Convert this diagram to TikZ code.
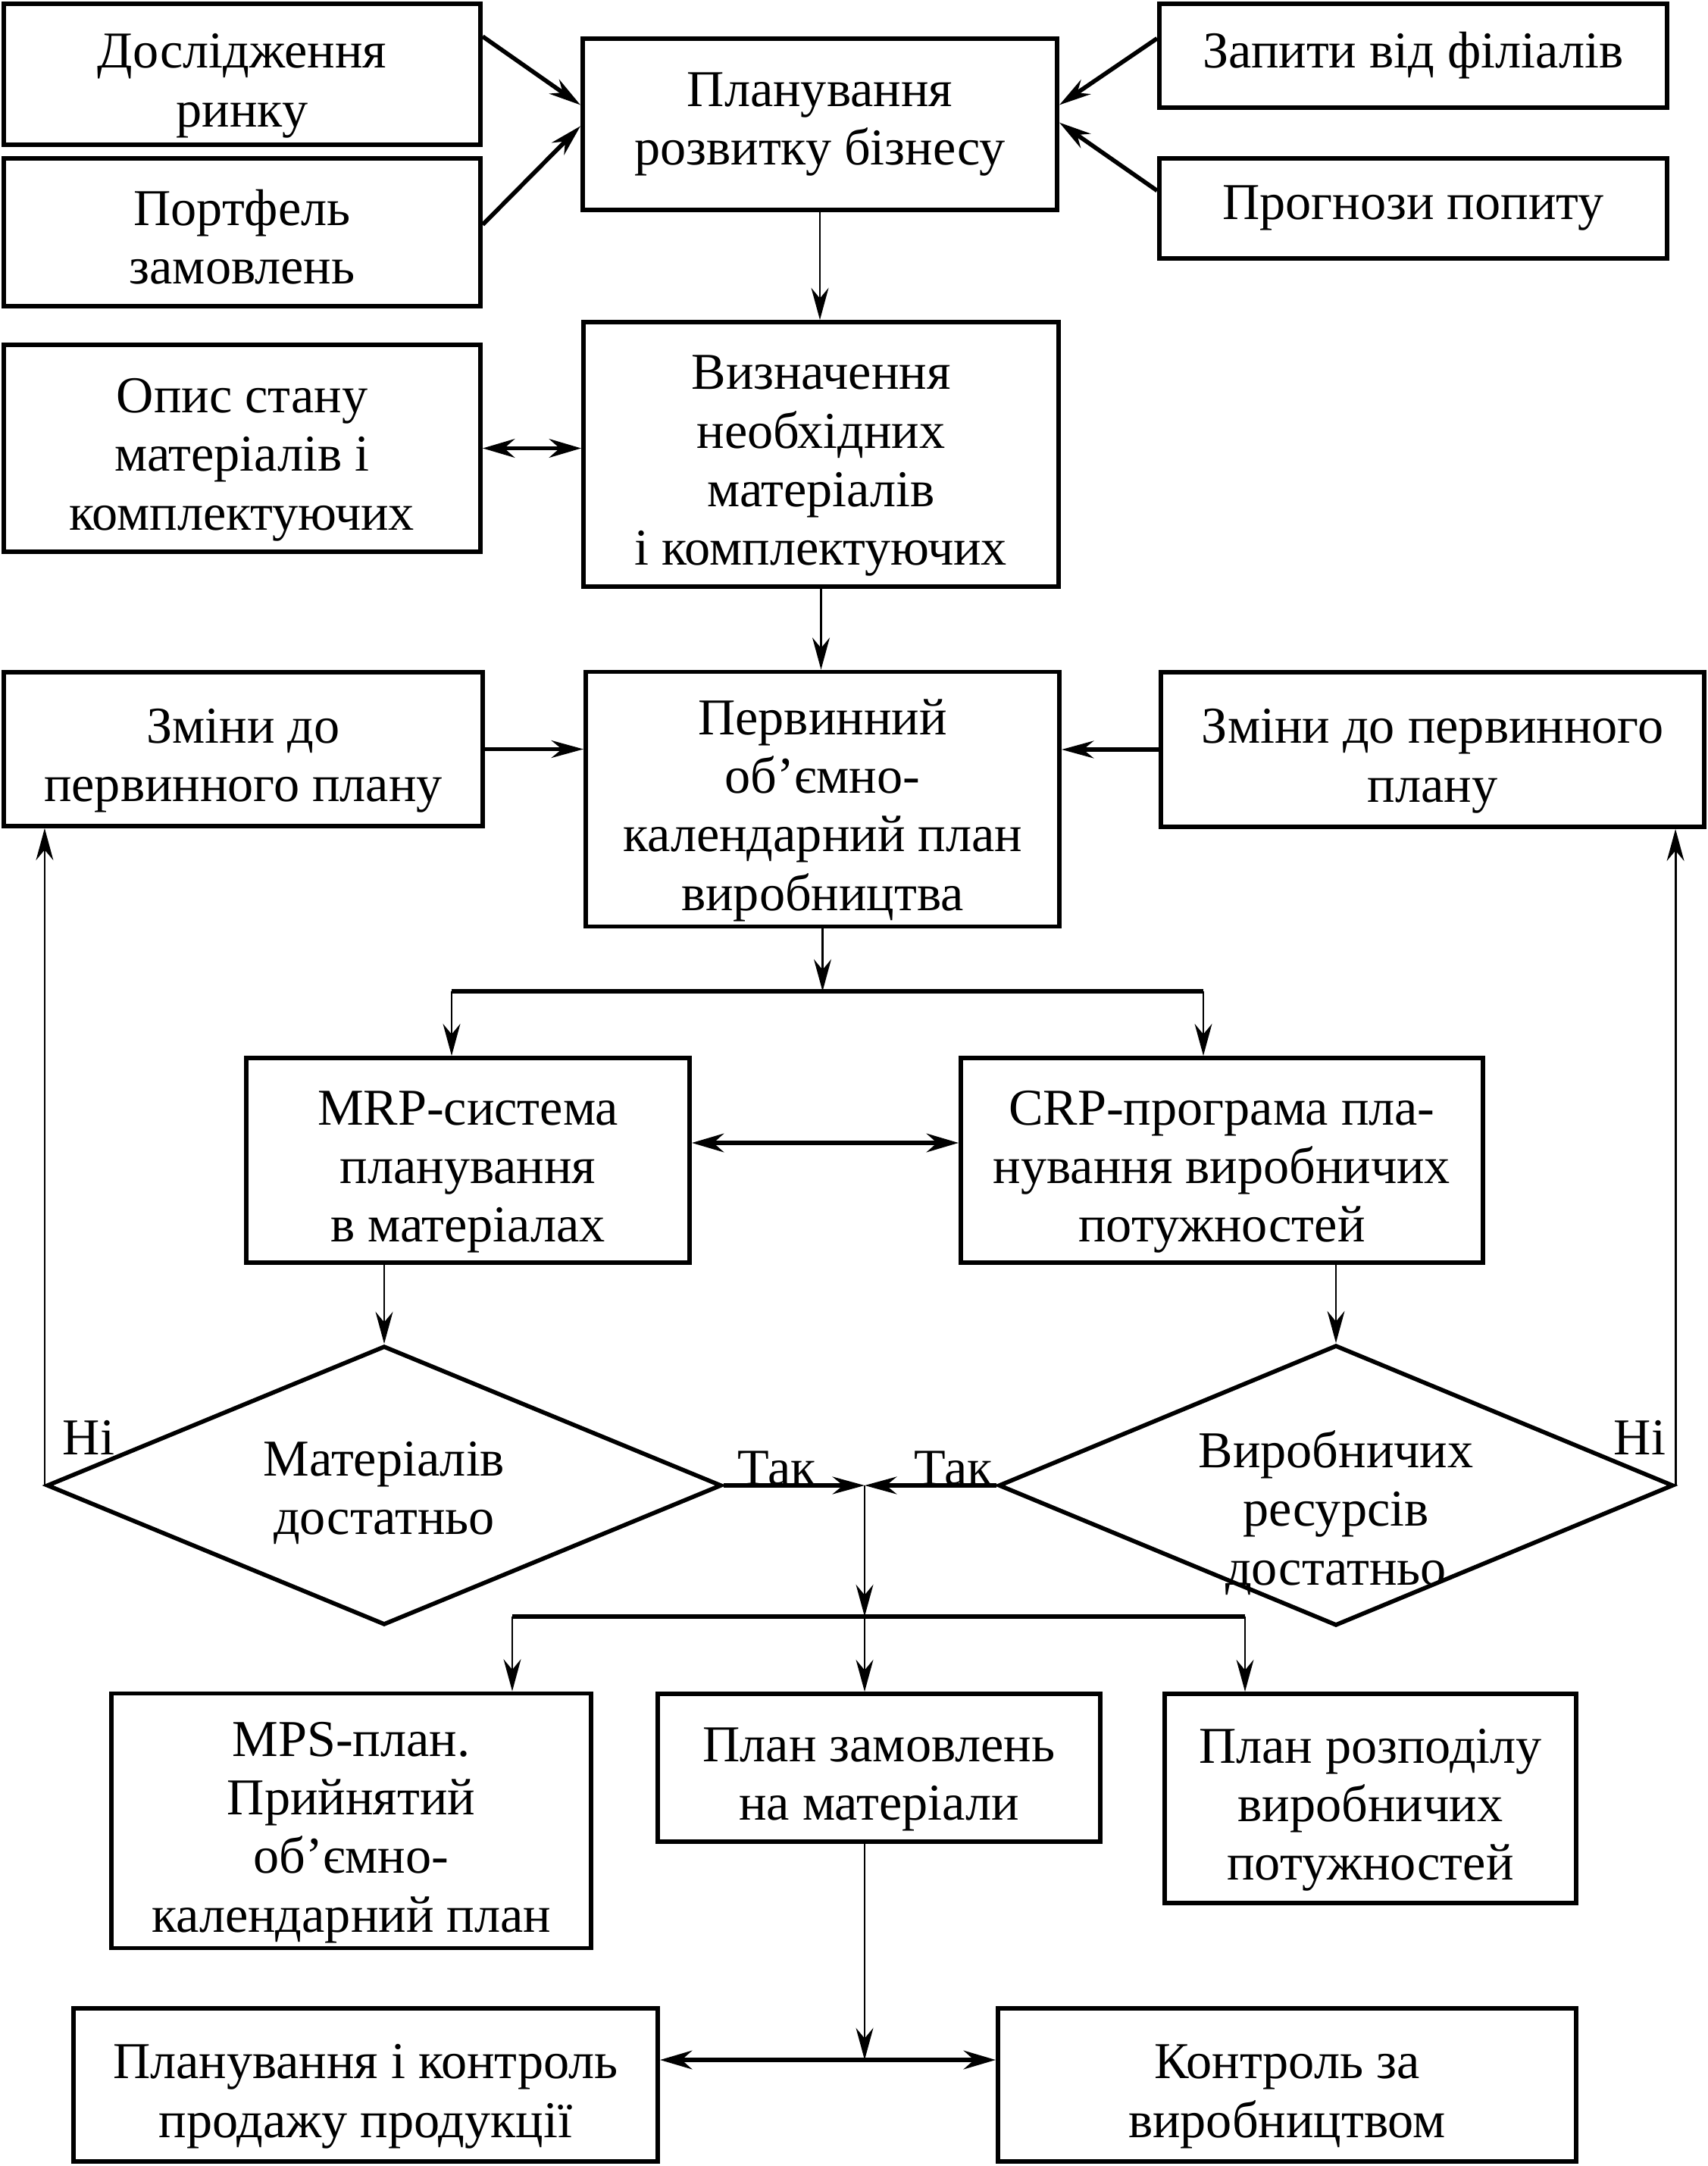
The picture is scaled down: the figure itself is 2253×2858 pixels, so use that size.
\documentclass[tikz,border=0pt]{standalone}
\usepackage{fontspec}
\setmainfont{Liberation Serif}
\usetikzlibrary{arrows.meta,shapes.geometric,calc}
\newcommand{\TopStrut}{\rule{0pt}{21.5pt}}
\newcommand{\HalfStrut}{\rule{0pt}{17pt}}
\begin{document}
\begin{tikzpicture}[x=0.01cm,y=-0.01cm,
  box/.style={draw,line width=1.6pt,align=center,inner sep=2pt,font=\fontsize{19.4}{22}\selectfont},
  dia/.style={draw,diamond,line width=1.6pt,inner sep=0pt},
  lbl/.style={align=center,inner sep=0pt,font=\fontsize{19.4}{22}\selectfont},
  thinln/.style={line width=0.8pt},
  thickln/.style={line width=1.6pt},
  arr/.style={-{Stealth[length=12pt,width=6.5pt]}},
  darr/.style={{Stealth[length=12pt,width=7pt]}-{Stealth[length=12pt,width=7pt]}},
]
\useasboundingbox (0,0) rectangle (2253,2858);

% boxes
\node[box,minimum width=6.29cm,minimum height=1.86cm] (dos) at (319.5,98) {\TopStrut Дослідження\\ринку};
\node[box,minimum width=6.29cm,minimum height=1.95cm] (port) at (319.5,306.5) {\HalfStrut Портфель\\замовлень};
\node[box,minimum width=6.26cm,minimum height=2.26cm] (plan) at (1082,164) {Планування\\розвитку бізнесу};
\node[box,minimum width=6.70cm,minimum height=1.37cm] (zap) at (1865,73.5) {Запити від філіалів};
\node[box,minimum width=6.70cm,minimum height=1.32cm] (prog) at (1865,275) {Прогнози попиту};
\node[box,minimum width=6.29cm,minimum height=2.73cm] (opys) at (319.5,591.5) {\TopStrut Опис стану\\матеріалів і\\комплектуючих};
\node[box,minimum width=6.27cm,minimum height=3.49cm] (vyzn) at (1083.5,599.5) {\TopStrut Визначення\\необхідних\\матеріалів\\і комплектуючих};
\node[box,minimum width=6.32cm,minimum height=2.03cm] (zminL) at (321,988.5) {\TopStrut Зміни до\\первинного плану};
\node[box,minimum width=6.25cm,minimum height=3.35cm] (perv) at (1085.5,1054.5) {\TopStrut Первинний\\об’ємно-\\календарний план\\виробництва};
\node[box,minimum width=7.17cm,minimum height=2.04cm] (zminR) at (1890.5,989) {\TopStrut Зміни до первинного\\плану};
\node[box,minimum width=5.85cm,minimum height=2.70cm] (mrp) at (617.5,1531) {\TopStrut MRP-система\\планування\\в матеріалах};
\node[box,minimum width=6.89cm,minimum height=2.70cm] (crp) at (1612.5,1531) {\TopStrut CRP-програма пла-\\нування виробничих\\потужностей};
\node[box,minimum width=6.33cm,minimum height=3.35cm] (mps) at (463.5,2402.5) {\TopStrut MPS-план.\\Прийнятий\\об’ємно-\\календарний план};
\node[box,minimum width=5.84cm,minimum height=1.95cm] (pzam) at (1160,2332.5) {\TopStrut План замовлень\\на матеріали};
\node[box,minimum width=5.43cm,minimum height=2.76cm] (prozp) at (1808.5,2373) {\TopStrut План розподілу\\виробничих\\потужностей};
\node[box,minimum width=7.71cm,minimum height=2.02cm] (pkont) at (482.5,2751) {\TopStrut Планування і контроль\\продажу продукції};
\node[box,minimum width=7.63cm,minimum height=2.02cm] (kontr) at (1698.5,2751) {\TopStrut Контроль за\\виробництвом};

% diamonds
\node[dia,minimum width=8.9cm,minimum height=3.68cm] (dL) at (507,1960) {};
\node[dia,minimum width=8.9cm,minimum height=3.70cm] (dR) at (1763,1960) {};
\node[lbl] (tL) at (507,1970) {Матеріалів\\достатньо};
\node[lbl] (tR) at (1763,1996) {Виробничих\\ресурсів\\достатньо};
\node[lbl] (niL) at (117,1897) {Ні};
\node[lbl] (niR) at (2164,1897) {Ні};
\node[lbl] (takL) at (1025,1937) {Так};
\node[lbl] (takR) at (1258,1937) {Так};

% helper coordinates
\coordinate (j) at (1141,1960);
\coordinate (barB) at (1141,2133);
\coordinate (bbL) at (676,2133);
\coordinate (bbR) at (1643,2133);
\coordinate (btL) at (596,1308);
\coordinate (btR) at (1588,1308);
\coordinate (m) at (1141,2718);
\coordinate (ymc) at (0,1508);

% connectors
\draw[thickln,arr] ($(dos.north east)!0.24!(dos.south east)$) -- ($(plan.north west)!0.39!(plan.south west)$);
\draw[thickln,arr] ($(port.north east)!0.45!(port.south east)$) -- ($(plan.north west)!0.51!(plan.south west)$);
\draw[thickln,arr] ($(zap.north west)!0.34!(zap.south west)$) -- ($(plan.north east)!0.39!(plan.south east)$);
\draw[thickln,arr] ($(prog.north west)!0.33!(prog.south west)$) -- ($(plan.north east)!0.49!(plan.south east)$);
\draw[thinln,arr] (plan.south) -- (plan.south |- vyzn.north);
\draw[thickln,darr] (opys.east) -- (opys.east -| vyzn.west);
\draw[thinln,arr] (vyzn.south) -- (vyzn.south |- perv.north);
\draw[thickln,arr] (zminL.east) -- (zminL.east -| perv.west);
\draw[thickln,arr] (zminR.west) -- (zminR.west -| perv.east);
\draw[thinln,arr] (perv.south) -- (perv.south |- btL);
\draw[thickln] (btL) -- (btR);
\draw[thinln,arr] (btL) -- (btL |- mrp.north);
\draw[thinln,arr] (btR) -- (btR |- crp.north);
\draw[thickln,darr] (mrp.east |- ymc) -- (crp.west |- ymc);
\draw[thinln,arr] (dL.north |- mrp.south) -- (dL.north);
\draw[thinln,arr] (dR.north |- crp.south) -- (dR.north);
\draw[thinln,arr] (dL.west) -- (dL.west |- zminL.south);
\draw[thinln,arr] (dR.east) -- (dR.east |- zminR.south);
\draw[thickln,arr] (dL.east) -- (j);
\draw[thickln,arr] (dR.west) -- (j);
\draw[thinln,arr] (j) -- (barB);
\draw[thickln] (bbL) -- (bbR);
\draw[thinln,arr] (bbL) -- (bbL |- mps.north);
\draw[thinln,arr] (barB) -- (barB |- pzam.north);
\draw[thinln,arr] (bbR) -- (bbR |- prozp.north);
\draw[thinln,arr] (barB |- pzam.south) -- (m);
\draw[thickln,darr] (pkont.east |- m) -- (kontr.west |- m);
\end{tikzpicture}
\end{document}
